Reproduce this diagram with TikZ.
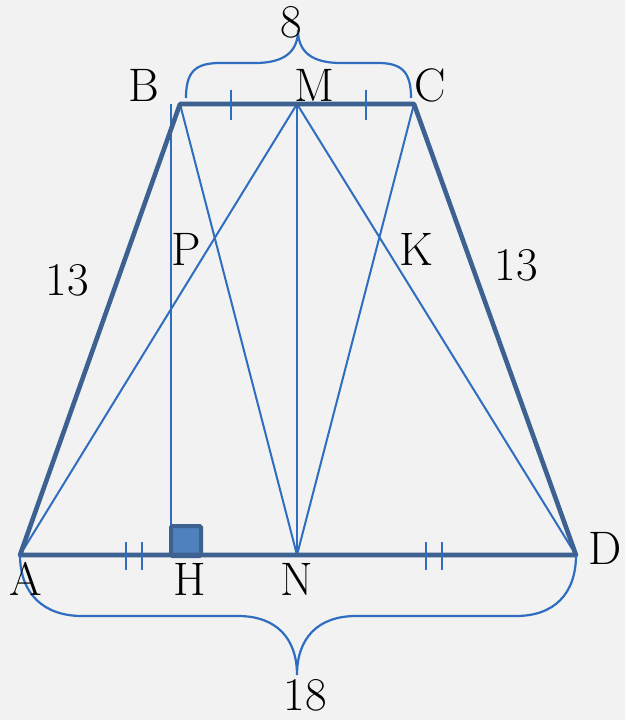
\documentclass[tikz,border=0pt]{standalone}
\usetikzlibrary{calc}
\definecolor{bg}{HTML}{F2F2F2}
\definecolor{thickc}{HTML}{3D6190}
\definecolor{thinc}{HTML}{2E6DBF}
\definecolor{sqfill}{HTML}{4F81BD}
\begin{document}
\begin{tikzpicture}[x=1pt,y=-1pt,
  thickline/.style={draw=thickc,line width=4.6pt,line join=round},
  thinline/.style={draw=thinc,line width=2pt},
  tickmark/.style={draw=thinc,line width=2pt},
  bracepath/.style={draw=thinc,line width=2.2pt},
  lbl/.style={inner sep=0pt,font=\fontsize{47}{52}\selectfont}]
\fill[bg] (0,0) rectangle (625,720);
\useasboundingbox (0,0) rectangle (625,720);
% vertices
\coordinate (A) at (20,555);
\coordinate (D) at (576,555);
\coordinate (B) at (180,104);
\coordinate (C) at (414,104);
\coordinate (M) at (297,104);
\coordinate (N) at (297,555);
\coordinate (Htop) at (171,104);
\coordinate (H) at (171,555);
% thin lines
\draw[thinline] (Htop) -- (H);
\draw[thinline] (B) -- (N);
\draw[thinline] (M) -- (A);
\draw[thinline] (M) -- (N);
\draw[thinline] (M) -- (D);
\draw[thinline] (C) -- (N);
% right-angle square
\draw[draw=thickc,fill=sqfill,line width=4pt,rounded corners=1.5pt] (171,526) rectangle (201,556);
% thick trapezoid
\draw[thickline] (A) -- (B) -- (C) -- (D) -- cycle;
% ticks
\draw[tickmark] (231,90) -- (231,120);
\draw[tickmark] (366,90) -- (366,120);
\draw[tickmark] (126,542) -- (126,570);
\draw[tickmark] (142,542) -- (142,570);
\draw[tickmark] (426,542) -- (426,570);
\draw[tickmark] (442,542) -- (442,570);
% top brace
\coordinate (tbL) at (186,98);
\coordinate (tbT) at (298,30);
\coordinate (tbR) at (411,98);
\draw[bracepath] (tbL) .. controls (186,72) and (195,63) .. (220,63) -- (255,63)
  .. controls (284,63) and (298,52) .. (tbT)
  .. controls (298,52) and (312,63) .. (341,63) -- (378,63)
  .. controls (402,63) and (411,72) .. (tbR);
% bottom brace
\coordinate (bbT) at (297,675);
\draw[bracepath] (A) .. controls (20,594) and (44,616) .. (82,616) -- (238,616)
  .. controls (276,616) and (297,638) .. (bbT)
  .. controls (297,638) and (318,616) .. (356,616) -- (516,616)
  .. controls (554,616) and (576,594) .. (D);
% labels
\node[lbl] (lB) at (144,85) {B};
\node[lbl] (lM) at (314,85) {M};
\node[lbl] (lC) at (430,85) {C};
\node[lbl] (l8) at (291,22) {8};
\node[lbl] (l13a) at (67,280) {13};
\node[lbl] (lP) at (186,249) {P};
\node[lbl] (lK) at (416,249) {K};
\node[lbl] (l13b) at (516,265) {13};
\node[lbl] (lA) at (26,579) {A};
\node[lbl] (lH) at (190,579) {H};
\node[lbl] (lN) at (297,579) {N};
\node[lbl] (lD) at (605,548) {D};
\node[lbl] (l18) at (305,695) {18};
\end{tikzpicture}
\end{document}
